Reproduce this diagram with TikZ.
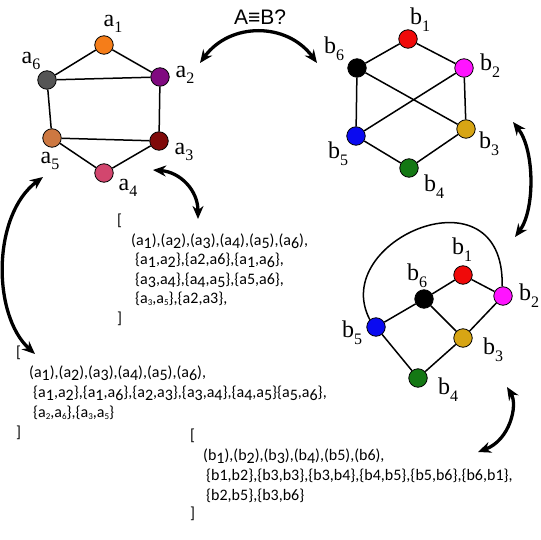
\documentclass[tikz,border=0pt]{standalone}
\usepackage{fontspec}
\newfontfamily\txtfont{Carlito}
\newfontfamily\eqfont{Liberation Sans}
\newfontfamily\lblfont{Liberation Serif}
\usetikzlibrary{arrows.meta}
\newcommand\ld[1]{\raisebox{-0.2em}{#1}}
\newcommand\tsb[1]{\raisebox{-0.18em}{\fontsize{9}{9}\selectfont #1}}
\newcommand\lsb[1]{\raisebox{-0.28em}{\fontsize{16}{16}\selectfont #1}}
\definecolor{ca1}{RGB}{245,125,25}
\definecolor{ca2}{RGB}{128,10,128}
\definecolor{ca3}{RGB}{128,10,10}
\definecolor{ca4}{RGB}{210,70,110}
\definecolor{ca5}{RGB}{205,120,65}
\definecolor{ca6}{RGB}{85,85,85}
\definecolor{cb1}{RGB}{240,10,10}
\definecolor{cb2}{RGB}{255,20,255}
\definecolor{cb3}{RGB}{215,165,20}
\definecolor{cb4}{RGB}{20,120,20}
\definecolor{cb5}{RGB}{10,10,240}
\definecolor{cb6}{RGB}{0,0,0}
\tikzset{
  vtx/.style={circle, draw=black, line width=0.8pt, minimum size=18.5pt, inner sep=0pt, fill=#1},
  lbl/.style={inner sep=0pt, font=\lblfont\fontsize{24}{28}\selectfont},
  edge/.style={line width=1.5pt},
  bigarrow/.style={line width=3.3pt, {Stealth[length=13pt,width=11pt]}-{Stealth[length=13pt,width=11pt]}},
  txt/.style={anchor=base west, inner sep=0pt, font=\txtfont\fontsize{16}{19}\selectfont},
}
\begin{document}
\begin{tikzpicture}[x=1pt,y=-1pt]
\useasboundingbox (0,0) rectangle (540,540);
% Graph A
\node[vtx=ca1] (a1) at (104,45) {};
\node[vtx=ca2] (a2) at (160,77) {};
\node[vtx=ca3] (a3) at (159,141) {};
\node[vtx=ca4] (a4) at (104,173) {};
\node[vtx=ca5] (a5) at (52,138) {};
\node[vtx=ca6] (a6) at (47,80) {};
\draw[edge] (a1)--(a2) (a1)--(a6) (a6)--(a2) (a6)--(a5) (a2)--(a3) (a5)--(a3) (a5)--(a4) (a4)--(a3);
\node[lbl] (la1) at (113,24) {a\lsb{1}};
\node[lbl] (la2) at (185,75) {a\lsb{2}};
\node[lbl] (la3) at (184,152) {a\lsb{3}};
\node[lbl] (la4) at (128,188) {a\lsb{4}};
\node[lbl] (la5) at (50,161) {a\lsb{5}};
\node[lbl] (la6) at (31,61) {a\lsb{6}};
% Graph B (top)
\node[vtx=cb1] (b1) at (408,39) {};
\node[vtx=cb2] (b2) at (464,68) {};
\node[vtx=cb3] (b3) at (466,129) {};
\node[vtx=cb4] (b4) at (409,168) {};
\node[vtx=cb5] (b5) at (356,136) {};
\node[vtx=cb6] (b6) at (357,68) {};
\draw[edge] (b6)--(b1) (b1)--(b2) (b6)--(b5) (b2)--(b3) (b6)--(b3) (b2)--(b5) (b5)--(b4) (b4)--(b3);
\node[lbl] (lb1) at (420,20) {b\lsb{1}};
\node[lbl] (lb2) at (490,66) {b\lsb{2}};
\node[lbl] (lb3) at (489,144) {b\lsb{3}};
\node[lbl] (lb4) at (434,187) {b\lsb{4}};
\node[lbl] (lb5) at (338,154) {b\lsb{5}};
\node[lbl] (lb6) at (334,49) {b\lsb{6}};
% Graph B (bottom)
\node[vtx=cb1] (c1) at (463,275) {};
\node[vtx=cb2] (c2) at (503,296) {};
\node[vtx=cb3] (c3) at (463,338) {};
\node[vtx=cb4] (c4) at (418,378) {};
\node[vtx=cb5] (c5) at (376,327) {};
\node[vtx=cb6] (c6) at (424,299) {};
\draw[edge] (c6)--(c1) (c1)--(c2) (c6)--(c5) (c6)--(c3) (c2)--(c3) (c5)--(c4) (c4)--(c3);
\draw[edge] (c5.130) .. controls (328,240) and (505,165) .. (c2.95);
\node[lbl] (lc1) at (462,250) {b\lsb{1}};
\node[lbl] (lc2) at (529,296) {b\lsb{2}};
\node[lbl] (lc3) at (493,350) {b\lsb{3}};
\node[lbl] (lc4) at (448,390) {b\lsb{4}};
\node[lbl] (lc5) at (352,333) {b\lsb{5}};
\node[lbl] (lc6) at (417,276) {b\lsb{6}};
% title
\node[inner sep=0pt, font=\eqfont\fontsize{21}{24}\selectfont] (title) at (260,17) {A≡B?};
% arrows
\coordinate (t1) at (200,63); \coordinate (t2) at (317,63);
\draw[bigarrow] (t1) .. controls (230,22) and (287,22) .. (t2);
\coordinate (r1) at (513,122); \coordinate (r2) at (515,237);
\draw[bigarrow] (r1) .. controls (535,150) and (535,210) .. (r2);
\coordinate (m1) at (153,170); \coordinate (m2) at (198,219);
\draw[bigarrow] (m1) .. controls (180,172) and (198,190) .. (m2);
\coordinate (l1) at (43,177); \coordinate (l2) at (35,354);
\draw[bigarrow] (l1) .. controls (-8,215) and (-8,315) .. (l2);
\coordinate (br1) at (507,387); \coordinate (br2) at (478,452);
\draw[bigarrow] (br1) .. controls (518,405) and (510,440) .. (br2);
% text block 1
\node[txt] (p1o) at (117,225) {[};
\node[txt] (p1a) at (131,245) {(a\ld{1}),(a\ld{2}),(a\ld{3}),(a\ld{4}),(a\ld{5}),(a\ld{6}),};
\node[txt] (p1b) at (135,264) {\{a\ld{1},a\ld{2}\},\{a2,a6\},\{a\ld{1},a\ld{6}\},};
\node[txt] (p1c) at (135,284) {\{a\ld{3},a\ld{4}\},\{a\ld{4},a\ld{5}\},\{a5,a6\},};
\node[txt] (p1d) at (135,303) {\{a\tsb{3},a\tsb{5}\},\{a2,a3\},};
\node[txt] (p1e) at (117,323) {]};
% text block 2
\node[txt] (p2o) at (16,357) {[};
\node[txt] (p2a) at (29,377) {(a\ld{1}),(a\ld{2}),(a\ld{3}),(a\ld{4}),(a\ld{5}),(a\ld{6}),};
\node[txt] (p2b) at (33,397) {\{a\ld{1},a\ld{2}\},\{a\ld{1},a\ld{6}\},\{a\ld{2},a\ld{3}\},\{a\ld{3},a\ld{4}\},\{a\ld{4},a\ld{5}\}\{a\ld{5},a\ld{6}\},};
\node[txt] (p2c) at (33,417) {\{a\tsb{2},a\tsb{6}\},\{a\tsb{3},a\tsb{5}\}};
\node[txt] (p2e) at (16,437) {]};
% text block 3
\node[txt] (p3o) at (190,440) {[};
\node[txt] (p3a) at (203,460) {(b\ld{1}),(b\ld{2}),(b\ld{3}),(b\ld{4}),(b5),(b6),};
\node[txt] (p3b) at (206,480) {\{b1,b2\},\{b3,b3\},\{b3,b4\},\{b4,b5\},\{b5,b6\},\{b6,b1\},};
\node[txt] (p3c) at (206,500) {\{b2,b5\},\{b3,b6\}};
\node[txt] (p3e) at (190,518) {]};
\end{tikzpicture}
\end{document}
